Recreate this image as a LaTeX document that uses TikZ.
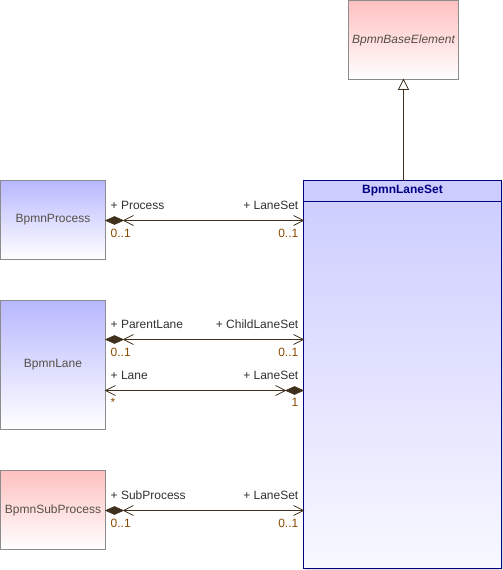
\documentclass[tikz,border=0pt]{standalone}
\usepackage{fontspec}
\setmainfont{Liberation Sans}
\usetikzlibrary{shadows}
\definecolor{lc}{HTML}{40301E}
\definecolor{mult}{HTML}{8A4A00}
\definecolor{lbl}{HTML}{303030}
\definecolor{cname}{HTML}{555048}
\definecolor{navy}{HTML}{000080}
\definecolor{blueTop}{HTML}{B8B8FF}
\definecolor{pinkTop}{HTML}{FFC0C0}
\definecolor{lsTop}{HTML}{CCCCFF}
\definecolor{lsBot}{HTML}{F8F8FF}
\definecolor{boxline}{HTML}{8C8C8C}
\tikzset{
  classbox/.style={draw=boxline, line width=0.8pt, inner sep=0pt, outer sep=0pt, anchor=north west,
    minimum width=105pt, font=\fontsize{12}{14}\selectfont, text=cname},
  blueshade/.style={top color=blueTop, bottom color=white},
  pinkshade/.style={top color=pinkTop, bottom color=white},
  assoc/.style={draw=lc, line width=0.9pt},
  tipfill/.style={draw=lc, fill=lc, line width=0.5pt},
  openarrow/.style={draw=lc, line width=0.8pt},
  rolelbl/.style={font=\fontsize{12}{14}\selectfont, text=lbl, inner sep=0pt},
  multlbl/.style={font=\fontsize{12}{14}\selectfont, text=mult, inner sep=0pt},
}
\newcommand\leftcomp[1]{%
  \fill[tipfill, shift={(#1)}] (0,0) -- (9,-4) -- (18,0) -- (9,4) -- cycle;
  \draw[openarrow, shift={(#1)}] (28,-5) -- (18,0) -- (28,5);}
\newcommand\leftopen[1]{%
  \draw[openarrow, shift={(#1)}] (10,-5) -- (0,0) -- (10,5);}
\newcommand\rightopen[1]{%
  \draw[openarrow, shift={(#1)}] (-10,-5) -- (0,0) -- (-10,5);}
\newcommand\rightcomp[1]{%
  \fill[tipfill, shift={(#1)}] (0,0) -- (-9,-4) -- (-18,0) -- (-9,4) -- cycle;
  \draw[openarrow, shift={(#1)}] (-28,-5) -- (-18,0) -- (-28,5);}
\begin{document}
\begin{tikzpicture}[x=1pt,y=-1pt]
\useasboundingbox (0,0) rectangle (503,570);

% BpmnLaneSet
\node[draw=navy, line width=0.9pt, inner sep=0pt, outer sep=0pt, anchor=north west,
  minimum width=198pt, minimum height=388pt, top color=lsTop, bottom color=lsBot,
  drop shadow={shadow xshift=1.5pt, shadow yshift=-1.5pt, opacity=0.25}] (ls) at (303.5,180.5) {};
\draw[draw=navy, line width=0.9pt, fill=lsTop] (ls.north west) rectangle ([yshift=-21pt]ls.north east);
\node[font=\fontsize{12}{14}\selectfont\bfseries, text=navy, inner sep=0pt] (lstitle) at ([yshift=-10.5pt]ls.north) {BpmnLaneSet};

% BpmnBaseElement
\node[classbox, pinkshade, minimum width=110pt, minimum height=79pt, font=\fontsize{12}{14}\selectfont\itshape] (base) at (348.5,0.5) {BpmnBaseElement};

% left classes
\node[classbox, blueshade, minimum height=79pt] (proc) at (0.5,180.5) {BpmnProcess};
\node[classbox, blueshade, minimum height=129pt] (lane) at (0.5,300.5) {BpmnLane};
\node[classbox, pinkshade, minimum height=79pt] (sub) at (0.5,470.5) {BpmnSubProcess};

% generalization
\coordinate (gtip) at (base.south -| 403.5,0);
\draw[assoc] (ls.north -| gtip) -- ([yshift=-10pt]gtip);
\draw[draw=lc, line width=0.8pt, fill=white] (gtip) -- ([xshift=-5pt,yshift=-10pt]gtip) -- ([xshift=5pt,yshift=-10pt]gtip) -- cycle;

% associations
\coordinate (a1) at ([yshift=-40pt]proc.north east);
\coordinate (b1) at (a1 -| ls.west);
\draw[assoc] (a1) -- (b1);
\leftcomp{a1}\rightopen{b1}
\node[rolelbl, anchor=south west] (r1a) at ([xshift=5pt,yshift=11pt]a1) {+ Process};
\node[multlbl, anchor=north west] (m1a) at ([xshift=5pt,yshift=-8pt]a1) {0..1};
\node[rolelbl, anchor=south east] (r1b) at ([xshift=-5pt,yshift=11pt]b1) {+ LaneSet};
\node[multlbl, anchor=north east] (m1b) at ([xshift=-5pt,yshift=-8pt]b1) {0..1};

\coordinate (a2) at ([yshift=-39pt]lane.north east);
\coordinate (b2) at (a2 -| ls.west);
\draw[assoc] (a2) -- (b2);
\leftcomp{a2}\rightopen{b2}
\node[rolelbl, anchor=south west] (r2a) at ([xshift=5pt,yshift=11pt]a2) {+ ParentLane};
\node[multlbl, anchor=north west] (m2a) at ([xshift=5pt,yshift=-8pt]a2) {0..1};
\node[rolelbl, anchor=south east] (r2b) at ([xshift=-5pt,yshift=11pt]b2) {+ ChildLaneSet};
\node[multlbl, anchor=north east] (m2b) at ([xshift=-5pt,yshift=-8pt]b2) {0..1};

\coordinate (a3) at ([yshift=-90pt]lane.north east);
\coordinate (b3) at (a3 -| ls.west);
\draw[assoc] (a3) -- (b3);
\leftopen{a3}\rightcomp{b3}
\node[rolelbl, anchor=south west] (r3a) at ([xshift=5pt,yshift=11pt]a3) {+ Lane};
\node[multlbl, anchor=north west] (m3a) at ([xshift=5pt,yshift=-8pt]a3) {*};
\node[rolelbl, anchor=south east] (r3b) at ([xshift=-5pt,yshift=11pt]b3) {+ LaneSet};
\node[multlbl, anchor=north east] (m3b) at ([xshift=-5pt,yshift=-8pt]b3) {1};

\coordinate (a4) at ([yshift=-40pt]sub.north east);
\coordinate (b4) at (a4 -| ls.west);
\draw[assoc] (a4) -- (b4);
\leftcomp{a4}\rightopen{b4}
\node[rolelbl, anchor=south west] (r4a) at ([xshift=5pt,yshift=11pt]a4) {+ SubProcess};
\node[multlbl, anchor=north west] (m4a) at ([xshift=5pt,yshift=-8pt]a4) {0..1};
\node[rolelbl, anchor=south east] (r4b) at ([xshift=-5pt,yshift=11pt]b4) {+ LaneSet};
\node[multlbl, anchor=north east] (m4b) at ([xshift=-5pt,yshift=-8pt]b4) {0..1};
\end{tikzpicture}
\end{document}
